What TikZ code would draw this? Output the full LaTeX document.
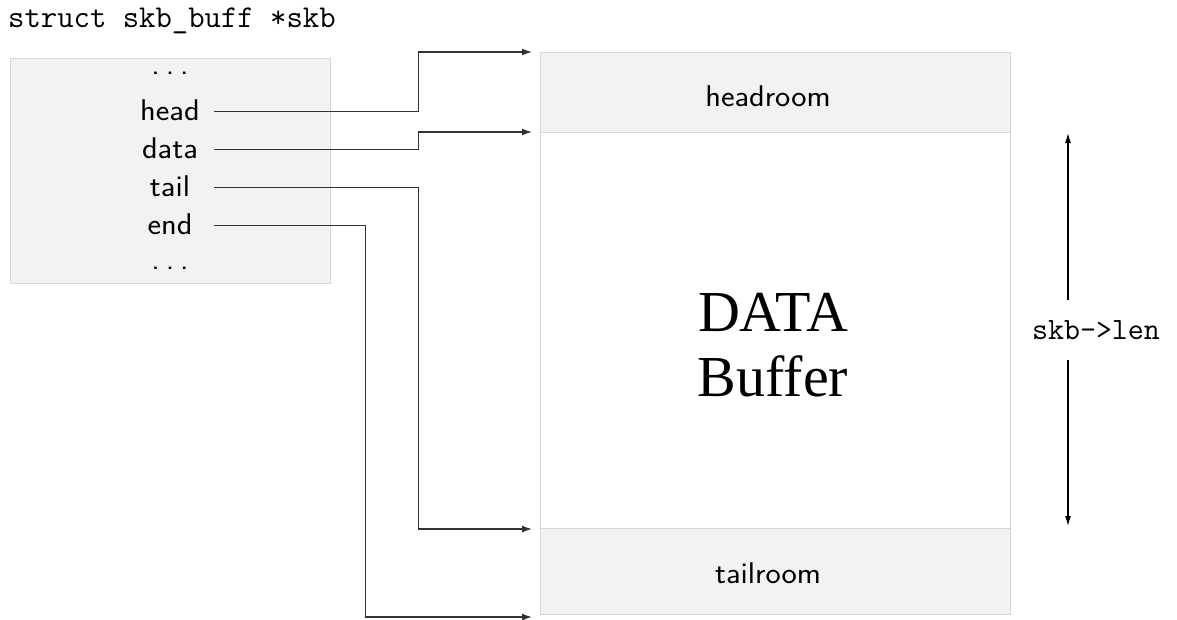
\documentclass[tikz,border=0pt]{standalone}
\usepackage{fontspec}
\newfontfamily\bigserif{Liberation Serif}
\newfontfamily\widesans{Latin Modern Sans}[FakeStretch=1.08]
\usetikzlibrary{arrows.meta}
\definecolor{boxfill}{HTML}{F2F2F2}
\definecolor{boxline}{HTML}{D6D6D6}
\definecolor{conncol}{HTML}{333333}
\newcommand{\fielddots}{.\hspace{6pt}.\hspace{6pt}.}
\tikzset{
  region/.style={draw=boxline, fill=boxfill, line width=1pt},
  field/.style={font=\widesans\fontsize{30}{34}\selectfont, inner sep=0pt, minimum width=88pt, text height=17pt, text depth=0pt, anchor=base},
  conn/.style={draw=conncol, line width=1.3pt, -{Latex[length=10pt,width=7pt]}},
  lenarrow/.style={draw=black, line width=1.2pt, -{Latex[length=10pt,width=6pt]}},
  lbl/.style={font=\widesans\fontsize{30}{34}\selectfont, inner sep=0pt, anchor=base},
}
\begin{document}
\begin{tikzpicture}[x=1pt,y=-1pt]
\useasboundingbox (0,0) rectangle (1177,619);
% title
\node[font=\ttfamily\fontsize{31.8}{36}\selectfont, anchor=base west, inner sep=0pt] (title) at (8,27) {struct skb\_buff *skb};
% struct box
\path[region] (10,58) rectangle (330,283);
\node[field] (dots1) at (170,74) {\fielddots};
\node[field] (head) at (170,120) {head};
\node[field] (data) at (170,158) {data};
\node[field] (tail) at (170,196) {tail};
\node[field] (end) at (170,234) {end};
\node[field] (dots2) at (170,269) {\fielddots};
% buffer column
\node[region, minimum width=470pt, minimum height=80pt, inner sep=0pt, anchor=north west] (hr) at (540,52) {};
\node[region, fill=white, minimum width=470pt, minimum height=396pt, inner sep=0pt, anchor=north west] (db) at (540,132) {};
\node[region, minimum width=470pt, minimum height=86pt, inner sep=0pt, anchor=north west] (tr) at (540,528) {};
\node[lbl] (hrt) at (768,106) {headroom};
\node[lbl] (trt) at (768,583) {tailroom};
\node[font=\bigserif\fontsize{58}{65}\selectfont, align=center, inner sep=0pt] (dbt) at (773,345) {DATA\\Buffer};
% connectors
\draw[conn] (head.east) -- ++(204,0) |- ([xshift=-8pt]hr.north west);
\draw[conn] (data.east) -- ++(204,0) |- ([xshift=-8pt]db.north west);
\draw[conn] (tail.east) -- ++(204,0) |- ([xshift=-8pt]db.south west);
\draw[conn] (end.east) -- ++(151,0) |- ([xshift=-8pt,yshift=-2pt]tr.south west);
% length
\node[font=\ttfamily\fontsize{31}{36}\selectfont, inner sep=0pt, minimum height=60pt] (len) at (1096,330) {skb->len};
\coordinate (lentop) at (1068,133);
\coordinate (lenbot) at (1068,526);
\draw[lenarrow] (len.north -| lentop) -- (lentop);
\draw[lenarrow] (len.south -| lenbot) -- (lenbot);
\end{tikzpicture}
\end{document}
